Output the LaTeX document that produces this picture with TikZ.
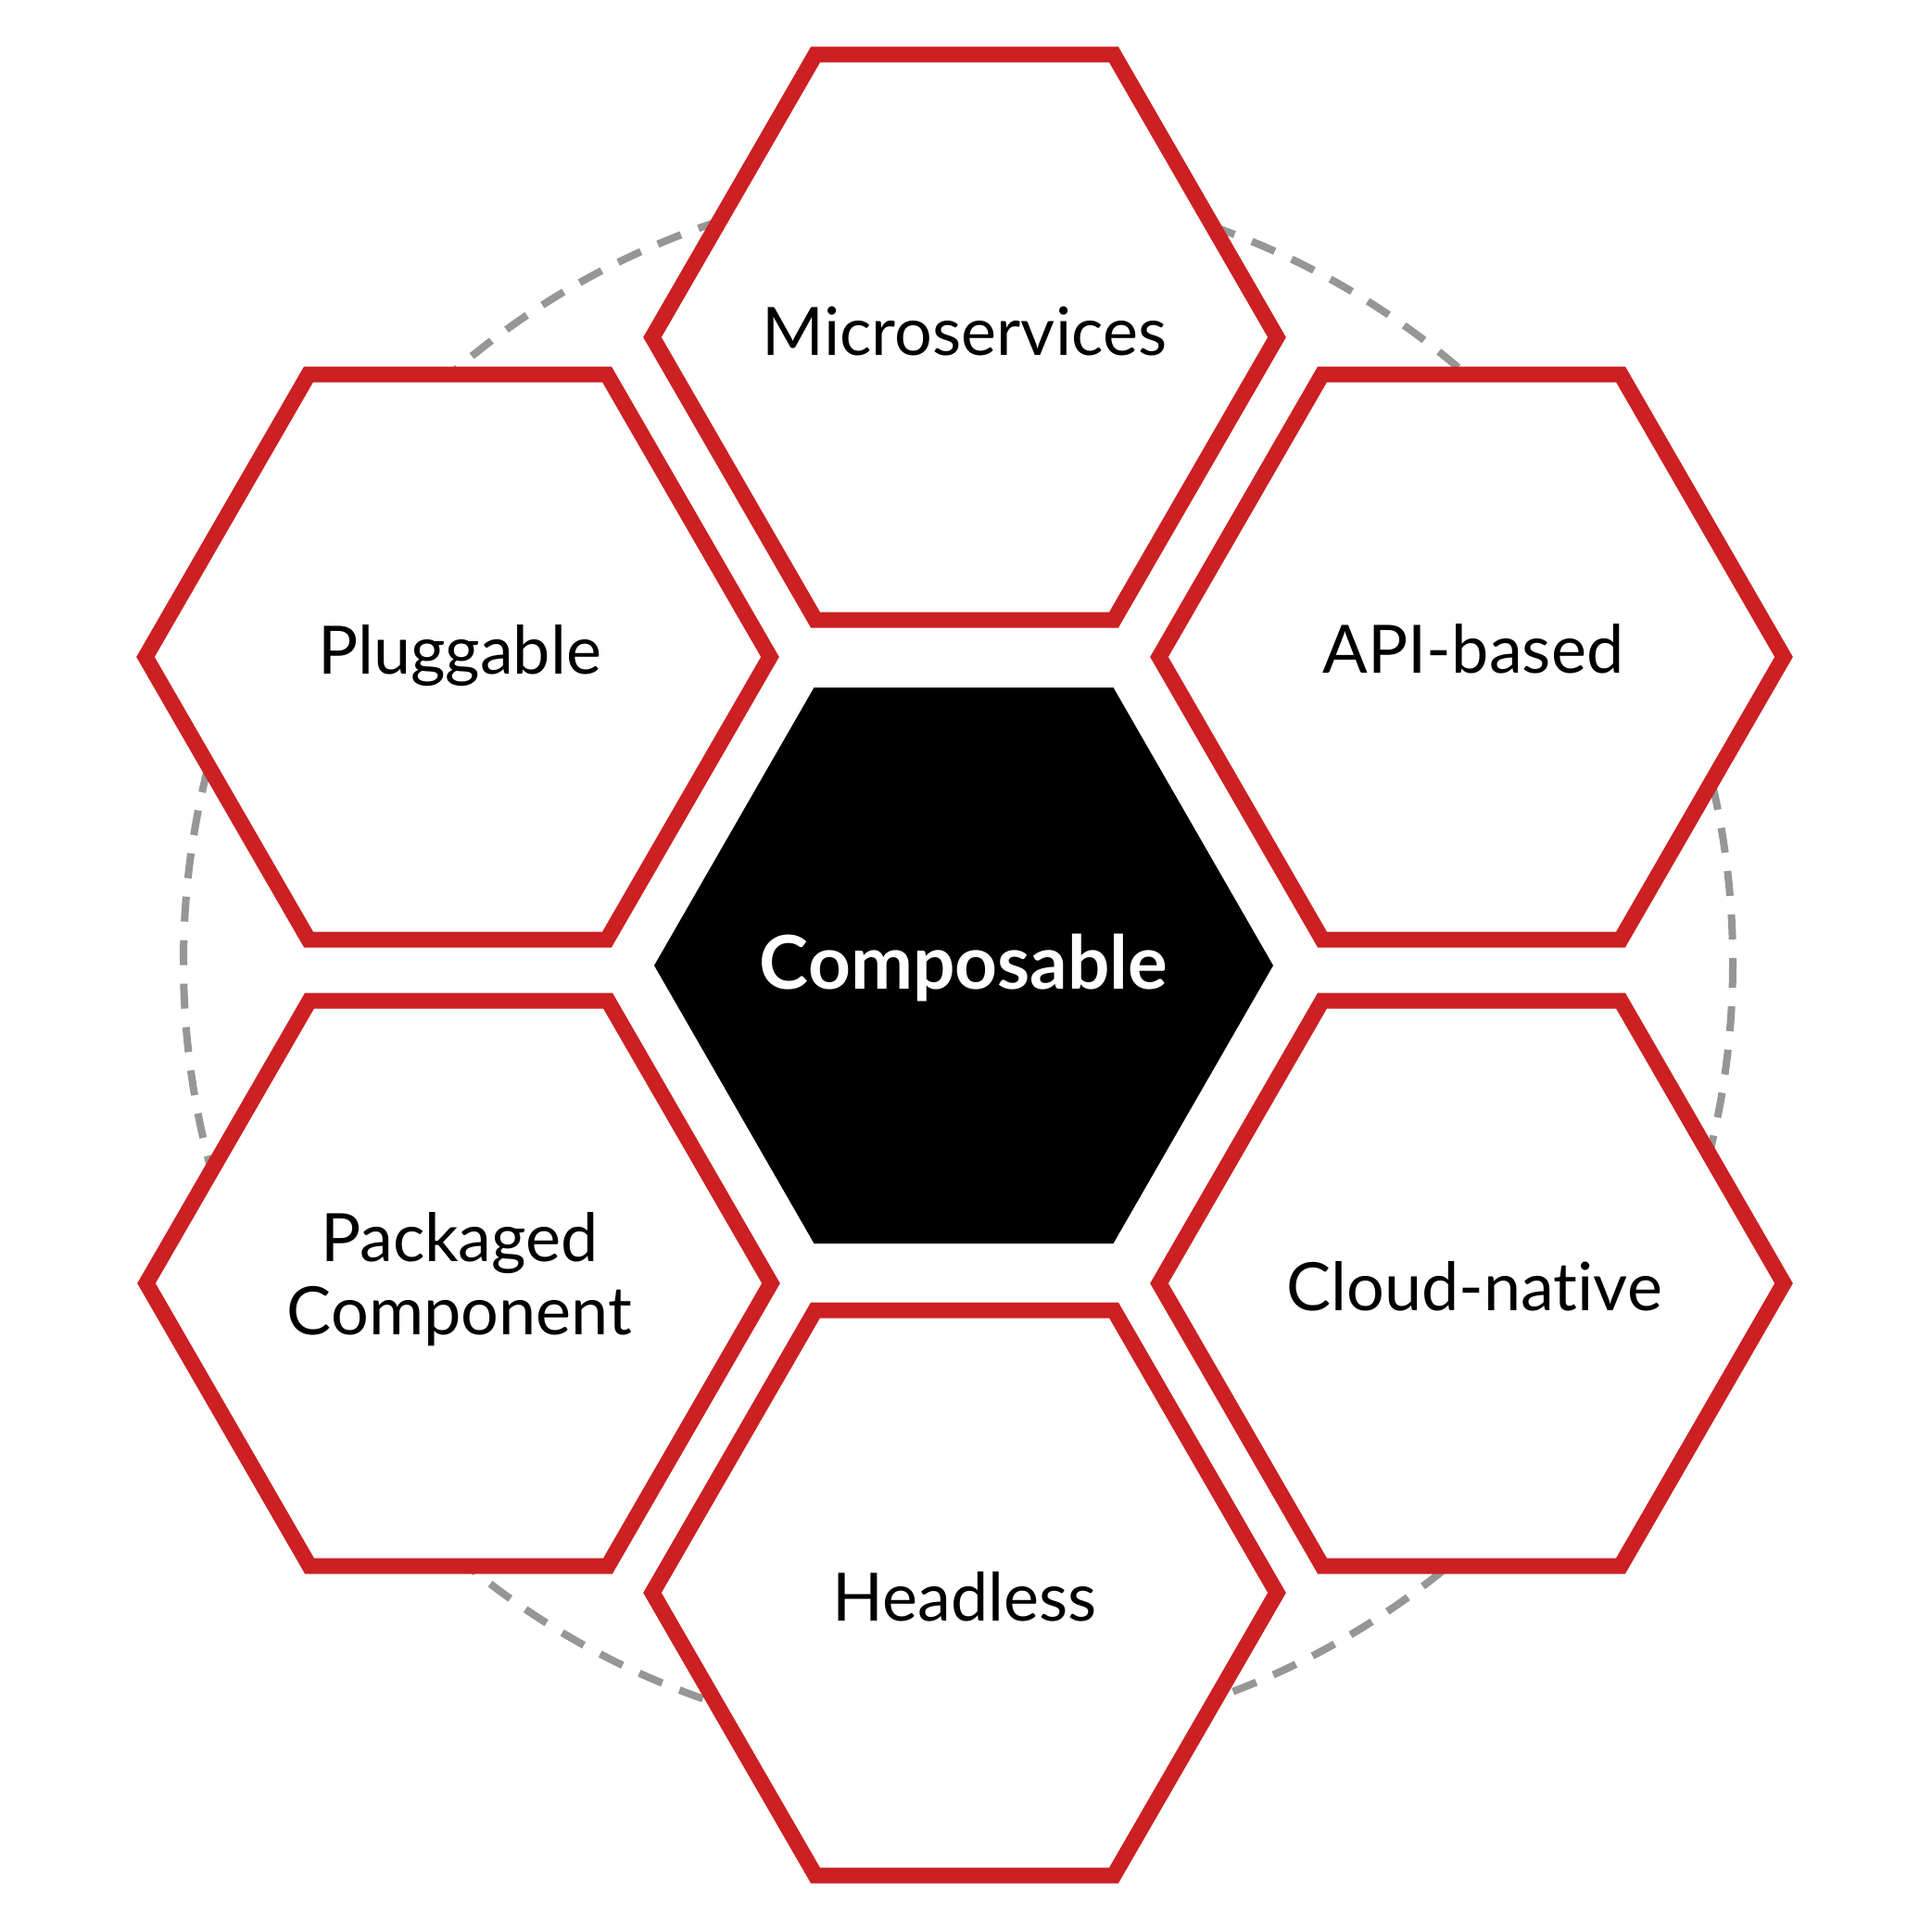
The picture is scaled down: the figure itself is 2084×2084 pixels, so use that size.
\documentclass[tikz,border=0pt]{standalone}
\usepackage{fontspec}
\setmainfont{Lato}[Ligatures={NoCommon}]
\definecolor{hexred}{RGB}{204,32,35}
\definecolor{ringgray}{RGB}{150,150,150}
\tikzset{
  hexagon/.pic={\path[pic actions] (-337,0) -- (-161,-305) -- (161,-305) -- (337,0) -- (161,305) -- (-161,305) -- cycle;},
  redhex/.style={draw=hexred, line width=17pt, fill=white, line join=miter},
  ring/.style={draw=ringgray, line width=8pt, dash pattern=on 27pt off 20pt},
  lbl/.style={text=black, font=\fontsize{72}{79}\selectfont, align=center, inner sep=0pt, anchor=base},
  corelbl/.style={text=white, font=\fontsize{80}{90}\selectfont\bfseries, inner sep=0pt, anchor=base}
}
\begin{document}
\begin{tikzpicture}[x=1pt,y=-1pt]
\useasboundingbox[fill=white] (0,0) rectangle (2084,2084);
% dashed ring behind the hexagons
\draw[ring] (1034,1039) ellipse [x radius=836, y radius=841];
% outer hexagons
\pic[redhex] (hmicro) at (1041,364) {hexagon};
\pic[redhex] (hplug) at (494,709) {hexagon};
\pic[redhex] (hapi) at (1588,709) {hexagon};
\pic[redhex] (hpack) at (495,1385) {hexagon};
\pic[redhex] (hcloud) at (1588,1385) {hexagon};
\pic[redhex] (hhead) at (1041,1719) {hexagon};
% centre hexagon
\fill[black] (1040-334,1042) -- (1040-161.5,1042-300) -- (1040+161.5,1042-300) -- (1040+334,1042) -- (1040+161.5,1042+300) -- (1040-161.5,1042+300) -- cycle;
% labels
\node[lbl] (micro) at (1041,383) {Microservices};
\node[lbl] (plug) at (496,727) {Pluggable};
\node[lbl] (api) at (1590,726) {API-based};
\node[corelbl] (core) at (1040,1067) {Composable};
\node[lbl] (pack) at (496,1440) {Packaged\\Component};
\node[lbl] (cloud) at (1591,1414) {Cloud-native};
\node[lbl] (head) at (1041,1749) {Headless};
\end{tikzpicture}
\end{document}
